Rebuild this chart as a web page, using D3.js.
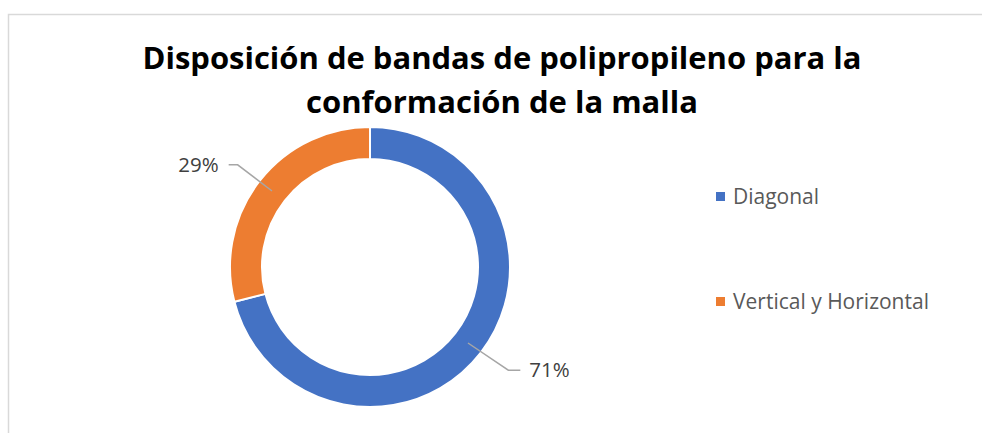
<!DOCTYPE html>
<html>
<head>
<meta charset="utf-8">
<script src="https://cdn.jsdelivr.net/npm/d3@7"></script>
<style>
  html, body { margin: 0; padding: 0; background: #fff; }
  svg { display: block; }
</style>
</head>
<body>
<svg id="chart" width="982" height="433"></svg>
<script>
const categories = ["Diagonal", "Vertical y Horizontal"];
const values = [71, 29];
const colors = ["#4472C4", "#ED7D31"];
const titleLines = ["Disposición de bandas de polipropileno para la", "conformación de la malla"];

const svg = d3.select("#chart");

// chart border (cropped at right and bottom)
svg.append("rect")
  .attr("x", 8.5).attr("y", 14.5)
  .attr("width", 1100).attr("height", 600)
  .attr("fill", "#fff").attr("stroke", "#d9d9d9").attr("stroke-width", 1.5);

// title
const titleLens = [719, 392];
svg.append("g").selectAll("text").data(titleLines).join("text")
  .attr("x", 502).attr("y", (d, i) => 69 + i * 44)
  .attr("text-anchor", "middle")
  .attr("font-family", "'Open Sans', sans-serif")
  .attr("font-weight", "bold")
  .attr("font-size", 30)
  .attr("fill", "#000")
  .attr("textLength", (d, i) => titleLens[i])
  .attr("lengthAdjust", "spacingAndGlyphs")
  .text(d => d);

// donut
const cx = 370, cy = 267, outerR = 140, innerR = 108;
const total = d3.sum(values);
const pie = d3.pie().sort(null).value(d => d)(values);
const arc = d3.arc().innerRadius(innerR).outerRadius(outerR);
const g = svg.append("g").attr("transform", `translate(${cx},${cy})`);
g.selectAll("path").data(pie).join("path")
  .attr("d", arc)
  .attr("fill", (d, i) => colors[i])
  .attr("stroke", "#fff").attr("stroke-width", 2);

// data labels with leader lines
const midArc = d3.arc().innerRadius((innerR + outerR) / 2).outerRadius((innerR + outerR) / 2);
const elbowArc = d3.arc().innerRadius(170).outerRadius(170);
const fmt = d => Math.round(d / total * 100) + "%";
pie.forEach((d, i) => {
  const a = midArc.centroid(d);
  const e = elbowArc.centroid(d);
  const right = e[0] > 0;
  const ex = right ? e[0] + 4 : e[0] + 2;
  const ey = right ? e[1] - 1 : e[1] + 2;
  const hx = ex + (right ? 12 : -9);
  g.append("polyline")
    .attr("points", [[a[0], a[1]], [ex, ey], [hx, ey]].map(p => p.join(",")).join(" "))
    .attr("fill", "none").attr("stroke", "#a6a6a6").attr("stroke-width", 1.5);
  g.append("text")
    .attr("x", hx + (right ? 9 : -10)).attr("y", ey + 7)
    .attr("text-anchor", right ? "start" : "end")
    .attr("font-family", "'Open Sans', sans-serif")
    .attr("font-size", 20.5)
    .attr("fill", "#404040")
    .text(fmt(d.data));
});

// legend
const legend = svg.append("g");
const ly = d3.scalePoint().domain(categories).range([196.5, 301.5]);
categories.forEach((c, i) => {
  legend.append("rect")
    .attr("x", 716).attr("y", ly(c) - 4.5)
    .attr("width", 9).attr("height", 9)
    .attr("fill", colors[i]);
  legend.append("text")
    .attr("x", 733).attr("y", ly(c) + 7)
    .attr("font-family", "'Open Sans', sans-serif")
    .attr("font-size", 21)
    .attr("fill", "#595959")
    .text(c);
});
</script>
</body>
</html>
